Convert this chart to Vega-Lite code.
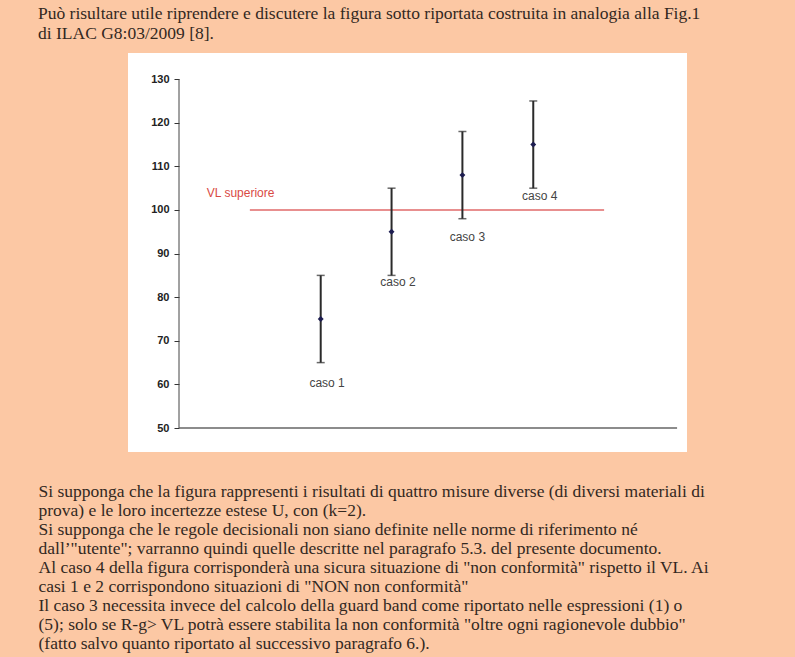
{
  "$schema": "https://vega.github.io/schema/vega-lite/v6.json",
  "autosize": {"type": "none"},
  "width": 559,
  "height": 399,
  "padding": {"left": 128, "top": 53, "right": 108, "bottom": 205},
  "background": "#fcc8a4",
  "view": {"fill": "#ffffff", "stroke": null},
  "title": {
    "text": [
      "Può risultare utile riprendere e discutere la figura sotto riportata costruita in analogia alla Fig.1",
      "di ILAC G8:03/2009 [8]."
    ],
    "anchor": "start",
    "frame": "group",
    "dx": -90,
    "offset": 11,
    "font": "Liberation Serif",
    "fontSize": 17.5,
    "fontWeight": "normal",
    "color": "#33281f",
    "lineHeight": 20
  },
  "datasets": {
    "cases": [
      {"caso": "caso 1", "x": 2, "y": 75, "lo": 65, "hi": 85},
      {"caso": "caso 2", "x": 3, "y": 95, "lo": 85, "hi": 105},
      {"caso": "caso 3", "x": 4, "y": 108, "lo": 98, "hi": 118},
      {"caso": "caso 4", "x": 5, "y": 115, "lo": 105, "hi": 125}
    ],
    "labels": [
      {"label": "caso 1", "x": 2.09, "y": 60.4},
      {"label": "caso 2", "x": 3.09, "y": 83.4},
      {"label": "caso 3", "x": 4.07, "y": 93.8},
      {"label": "caso 4", "x": 5.09, "y": 103.2}
    ],
    "limit": [
      {"label": "VL superiore", "value": 100, "start": 1, "end": 6, "label_x": 0.87, "label_y": 103.9}
    ]
  },
  "layer": [
    {
      "data": {"name": "limit"},
      "mark": {"type": "rule", "color": "#444444", "strokeWidth": 1},
      "encoding": {
        "x": {"datum": 0, "type": "quantitative", "scale": {"domain": [-0.72, 7.17], "nice": false, "zero": false}},
        "y": {"datum": 50, "type": "quantitative", "scale": {"domain": [44.5, 136], "nice": false, "zero": false}},
        "y2": {"datum": 130}
      }
    },
    {
      "data": {"name": "limit"},
      "mark": {"type": "rule", "color": "#666666", "strokeWidth": 1.5},
      "encoding": {
        "x": {"datum": 0, "type": "quantitative", "scale": {"domain": [-0.72, 7.17], "nice": false, "zero": false}},
        "x2": {"datum": 7.03},
        "y": {"datum": 50, "type": "quantitative", "scale": {"domain": [44.5, 136], "nice": false, "zero": false}}
      }
    },
    {
      "data": {"name": "limit"},
      "mark": {"type": "rule", "color": "#e06a6a", "strokeWidth": 1.5},
      "encoding": {
        "x": {
          "field": "start", "type": "quantitative",
          "scale": {"domain": [-0.72, 7.17], "nice": false, "zero": false},
          "axis": {
            "domain": false, "ticks": false, "labels": false, "grid": false,
            "title": [
              "Si supponga che la figura rappresenti i risultati di quattro misure diverse (di diversi materiali di",
              "prova) e le loro incertezze estese U, con (k=2).",
              "Si supponga  che le regole decisionali non siano definite nelle norme di riferimento né",
              "dall’\"utente\"; varranno quindi quelle descritte nel paragrafo 5.3. del presente documento.",
              "Al caso 4 della figura corrisponderà una sicura situazione di \"non conformità\" rispetto il VL. Ai",
              "casi 1 e 2 corrispondono situazioni di \"NON non conformità\"",
              "Il caso 3 necessita invece del calcolo della guard band come riportato nelle espressioni (1) o",
              "(5); solo se R-g> VL potrà essere stabilita la non conformità \"oltre ogni ragionevole dubbio\"",
              "(fatto salvo quanto riportato al successivo paragrafo 6.)."
            ],
            "titleAnchor": "start",
            "titleAlign": "left",
            "titleBaseline": "alphabetic",
            "titleX": -90,
            "titleY": 44,
            "titleFont": "Liberation Serif",
            "titleFontSize": 17.5,
            "titleFontWeight": "normal",
            "titleColor": "#33281f",
            "titleLineHeight": 19
          }
        },
        "x2": {"field": "end"},
        "y": {"field": "value", "type": "quantitative", "scale": {"domain": [44.5, 136], "nice": false, "zero": false}}
      }
    },
    {
      "data": {"name": "limit"},
      "mark": {"type": "text", "color": "#d94a44", "font": "Liberation Sans", "fontSize": 12, "align": "center", "baseline": "middle"},
      "encoding": {
        "x": {"field": "label_x", "type": "quantitative", "scale": {"domain": [-0.72, 7.17], "nice": false, "zero": false}},
        "y": {"field": "label_y", "type": "quantitative", "scale": {"domain": [44.5, 136], "nice": false, "zero": false}},
        "text": {"field": "label"}
      }
    },
    {
      "data": {"name": "cases"},
      "mark": {"type": "errorbar", "color": "#2a2a2a", "rule": {"strokeWidth": 2}, "ticks": {"size": 8, "thickness": 1.5}},
      "encoding": {
        "x": {"field": "x", "type": "quantitative", "scale": {"domain": [-0.72, 7.17], "nice": false, "zero": false}},
        "y": {"field": "lo", "type": "quantitative", "scale": {"domain": [44.5, 136], "nice": false, "zero": false}},
        "y2": {"field": "hi"}
      }
    },
    {
      "data": {"name": "cases"},
      "mark": {"type": "point", "filled": true, "shape": "diamond", "size": 35, "color": "#1d1d50", "opacity": 1},
      "encoding": {
        "x": {"field": "x", "type": "quantitative", "scale": {"domain": [-0.72, 7.17], "nice": false, "zero": false}},
        "y": {
          "field": "y", "type": "quantitative",
          "scale": {"domain": [44.5, 136], "nice": false, "zero": false},
          "axis": {
            "title": null,
            "values": [50, 60, 70, 80, 90, 100, 110, 120, 130],
            "offset": -51,
            "domain": false,
            "grid": false,
            "tickSize": 5,
            "tickColor": "#333333",
            "tickWidth": 1,
            "labelFont": "Liberation Sans",
            "labelFontWeight": "bold",
            "labelFontSize": 11,
            "labelColor": "#222222",
            "labelPadding": 5
          }
        }
      }
    },
    {
      "data": {"name": "labels"},
      "mark": {"type": "text", "color": "#444444", "font": "Liberation Sans", "fontSize": 12, "align": "center", "baseline": "middle"},
      "encoding": {
        "x": {"field": "x", "type": "quantitative", "scale": {"domain": [-0.72, 7.17], "nice": false, "zero": false}},
        "y": {"field": "y", "type": "quantitative", "scale": {"domain": [44.5, 136], "nice": false, "zero": false}},
        "text": {"field": "label"}
      }
    }
  ]
}
